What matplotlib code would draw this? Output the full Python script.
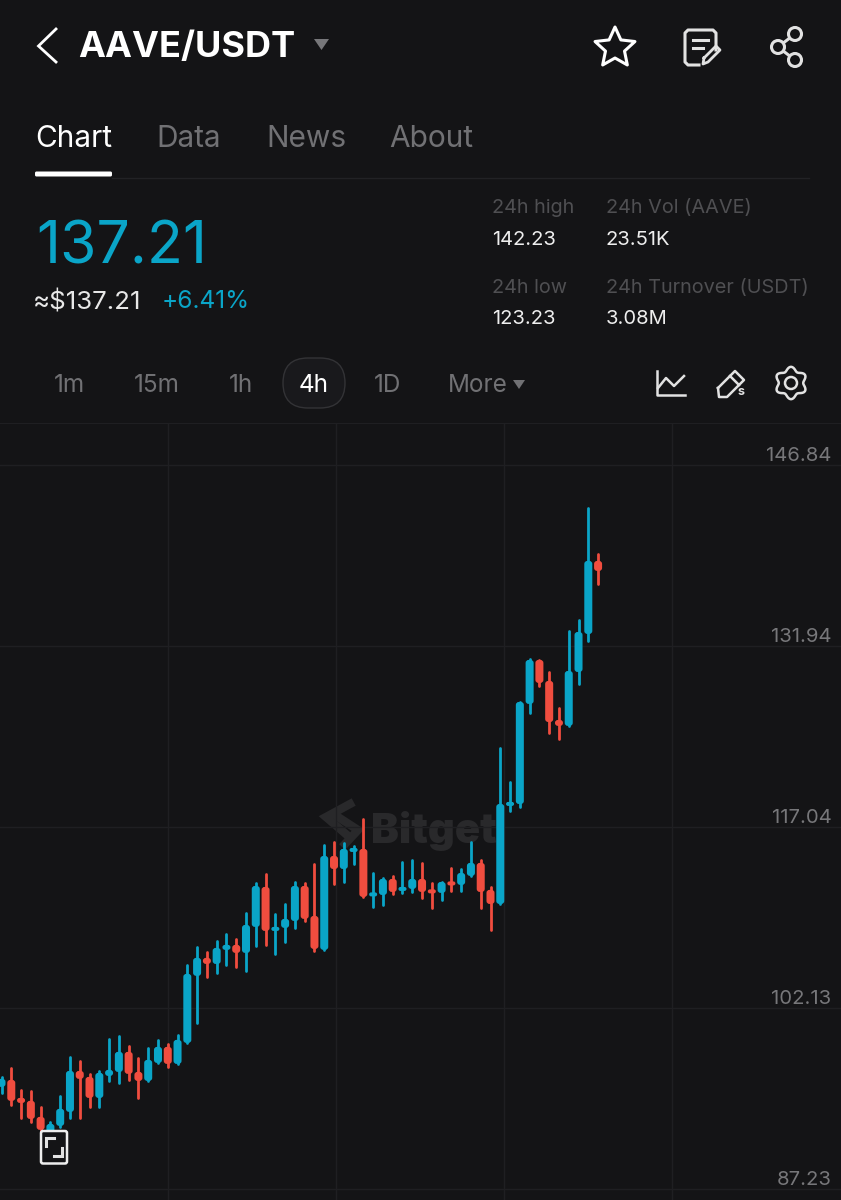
import numpy as np
import matplotlib
matplotlib.use("Agg")
import matplotlib.pyplot as plt
from matplotlib.patches import Circle, FancyBboxPatch, Polygon

plt.rcParams["font.family"] = ["Inter", "DejaVu Sans"]

# candles, oldest first
opens = [95.64, 96.21, 94.73, 94.49, 93.17, 91.85, 92.43, 93.58, 96.95, 96.46, 94.73,
         96.54, 96.87, 98.52, 96.87, 96.13, 97.61, 98.93, 97.53, 99.26, 104.78,
         106.26, 105.76, 106.92, 107.33, 106.67, 108.81, 112.10, 108.48, 108.73, 109.30,
         112.18, 109.71, 106.92, 114.65, 113.58, 114.98, 115.23, 111.36, 111.44, 112.76,
         111.77, 111.94, 112.76, 111.86, 111.61, 112.51, 112.27, 113.01, 114.08, 111.86,
         110.70, 118.77, 118.93, 127.17, 130.79, 129.06, 125.85, 125.36, 129.80, 132.93, 138.94]
highs = [96.46, 97.20, 95.39, 95.31, 93.99, 92.76, 94.90, 98.11, 97.78, 96.71, 96.95,
         99.59, 99.84, 99.01, 98.03, 98.85, 99.51, 99.18, 99.92, 105.68, 107.16,
         106.75, 107.66, 108.23, 107.82, 109.96, 112.43, 113.17, 109.88, 110.70, 112.51,
         112.43, 114.00, 115.56, 115.80, 115.72, 115.48, 117.70, 113.25, 112.84, 113.00,
         114.16, 114.32, 114.08, 112.43, 112.51, 113.67, 113.58, 115.81, 114.32, 112.10,
         123.54, 120.75, 127.33, 130.87, 130.79, 129.80, 126.84, 133.18, 134.08, 143.30, 139.51]
lows = [95.14, 94.16, 93.09, 92.76, 91.85, 91.28, 92.35, 93.09, 93.09, 93.99, 93.99,
        96.13, 95.97, 96.21, 94.73, 96.13, 97.61, 97.28, 97.53, 99.26, 100.91,
        104.69, 105.02, 105.68, 105.52, 105.19, 107.24, 107.33, 106.59, 107.57, 108.73,
        109.30, 106.83, 106.92, 112.35, 112.51, 114.00, 111.28, 110.46, 110.62, 111.53,
        111.61, 111.69, 111.20, 110.37, 111.03, 111.77, 111.77, 113.01, 110.37, 108.56,
        110.70, 118.36, 118.69, 126.43, 128.65, 124.78, 124.29, 125.36, 128.81, 132.35, 137.05]
closes = [96.30, 94.49, 94.32, 93.00, 92.10, 92.59, 93.83, 96.95, 96.30, 94.73, 96.79,
          97.04, 98.52, 96.71, 96.13, 97.86, 98.93, 97.53, 99.51, 104.94, 106.26,
          105.76, 107.08, 107.33, 106.67, 108.97, 112.18, 108.48, 108.81, 109.47, 112.18,
          109.47, 107.00, 114.65, 113.58, 115.23, 115.31, 111.28, 111.61, 112.76, 111.69,
          112.10, 112.76, 111.69, 111.61, 112.51, 112.27, 113.25, 114.08, 111.69, 110.70,
          118.93, 119.10, 127.33, 130.79, 128.90, 125.68, 125.36, 129.88, 133.09, 138.94, 138.12]
# colour of each candle as shown on the app: 1 = up (blue), 0 = down (red)
is_up = [1, 0, 0, 0, 0, 1, 1, 1, 0, 0, 1, 1, 1, 0, 0, 1, 1, 0, 1, 1, 1,
         0, 1, 1, 0, 1, 1, 0, 1, 1, 1, 0, 0, 1, 0, 1, 1, 0, 1, 1, 0,
         1, 1, 0, 0, 1, 0, 1, 1, 0, 0, 1, 1, 1, 1, 0, 0, 0, 1, 1, 1, 0]
price_ticks = [146.84, 131.94, 117.04, 102.13, 87.23]

tabs = ["Chart", "Data", "News", "About"]
tab_x = [35, 156, 266, 389]
intervals = ["1m", "15m", "1h", "4h", "1D", "More"]
interval_x = [69, 157, 241, 314, 388, 478]
stats = [("24h high", "142.23", 492, 207, 239), ("24h Vol (AAVE)", "23.51K", 606, 207, 239),
         ("24h low", "123.23", 492, 287, 318), ("24h Turnover (USDT)", "3.08M", 606, 287, 318)]

BG = "#141416"
BLUE = "#0aa5c8"
RED = "#f04d3f"
GRID = "#1f1f22"
ICON = "#e2e2e2"
W, H = 841, 1200

fig = plt.figure(figsize=(W / 100, H / 100), dpi=100, facecolor=BG)


def px_axes(z):
    a = fig.add_axes([0, 0, 1, 1], zorder=z)
    a.set_xlim(0, W)
    a.set_ylim(H, 0)
    a.axis("off")
    return a


under = px_axes(0)
ui = px_axes(3)

# chart area, candle spacing about 9.78 px, first candle a little past the left edge
step = 9.78
first_px = 1.5
top_px, bottom_px = 423, 1200
px_per_price = 181 / 14.9
ax = fig.add_axes([0, 1 - bottom_px / H, 1, (bottom_px - top_px) / H], zorder=1)
ax.patch.set_alpha(0)
ax.set_xlim(-first_px / step, (W - first_px) / step)
ax.set_ylim(87.23 - (bottom_px - 1189) / px_per_price, 146.84 + (465 - top_px) / px_per_price)
for s in ax.spines.values():
    s.set_visible(False)
ax.spines["top"].set_visible(True)
ax.spines["top"].set_color(GRID)
ax.set_xticks([])
ax.set_yticks(price_ticks)
ax.tick_params(axis="y", length=0, labelleft=False)
ax.grid(axis="y", color=GRID, lw=1)
for xp in [168, 336, 504, 672]:
    ax.axvline((xp - first_px) / step, color=GRID, lw=1, zorder=0)

for p in price_ticks:
    ax.annotate(f"{p:.2f}", xy=(1, p), xycoords=ax.get_yaxis_transform(), xytext=(-9.5, 0),
                textcoords="offset pixels", ha="right", va="bottom", fontsize=14.6, color="#77777a")

# candles
aspect = step / px_per_price
for i, (o, h, l, c, up) in enumerate(zip(opens, highs, lows, closes, is_up)):
    col = BLUE if up else RED
    ax.plot([i, i], [l, h], color=col, lw=2.0, solid_capstyle="round", zorder=3)
    lo, hi = min(o, c), max(o, c)
    body_px = max((hi - lo) * px_per_price, 4)
    mid = (lo + hi) / 2
    lo, hi = mid - body_px / 2 / px_per_price, mid + body_px / 2 / px_per_price
    r = min(3, body_px / 2) / step
    ax.add_patch(FancyBboxPatch((i - 0.41 + r, lo + r * aspect), 0.82 - 2 * r, hi - lo - 2 * r * aspect,
                                boxstyle=f"round,pad={r},rounding_size={r}", mutation_aspect=aspect,
                                fc=col, ec="none", zorder=4))

# watermark
WM = "#29292b"
under.text(371, 831, "Bitget", fontsize=30, fontweight="black", color=WM, ha="left", va="center")
under.plot([350, 326, 347], [804, 817, 835], color=WM, lw=6, solid_joinstyle="miter")
under.plot([338, 358, 345], [817, 830, 844], color=WM, lw=6, solid_joinstyle="miter")

# header
ui.plot([56, 38.5, 56], [29, 46, 62], color="white", lw=2.0, solid_joinstyle="miter")
ui.text(78, 47.5, "AAVE/USDT", fontsize=26, fontweight="bold", color="white", ha="left", va="center")
ui.add_patch(Polygon([(314, 39), (329, 39), (321.5, 50)], fc="#77777a", ec="none"))

# star
ang = np.deg2rad(np.arange(10) * 36 - 90)
rad = np.where(np.arange(10) % 2 == 0, 21, 10)
ui.add_patch(Polygon(np.c_[615 + rad * np.cos(ang), 48 + rad * np.sin(ang)], closed=True, fc="none",
                     ec="white", lw=2.2, joinstyle="round"))

# note icon
ui.plot([699, 688, 685, 685, 688, 713, 716, 716], [65, 65, 62, 33, 30, 30, 33, 50], color=ICON, lw=2.2)
ui.plot([693, 708], [40, 40], color=ICON, lw=2.2)
ui.plot([693, 703], [48, 48], color=ICON, lw=2.2)
ui.plot([704, 716, 720, 708, 703, 704], [58, 46, 50, 62, 64, 58], color=ICON, lw=2)

# share icon
ui.plot([795, 778, 795], [34, 47, 60], color=ICON, lw=2.2, zorder=3)
for cx, cy in [(795, 34), (778, 47), (795, 60)]:
    ui.add_patch(Circle((cx, cy), 6.5, fc=BG, ec=ICON, lw=2.2, zorder=4))

# tabs
for j, (name, x) in enumerate(zip(tabs, tab_x)):
    ui.text(x, 139, name, fontsize=21.5, color="white" if j == 0 else "#717174", ha="left", va="center")
ui.plot([112, 809], [177.5, 177.5], color="#222225", lw=1)
ui.add_patch(FancyBboxPatch((36, 172.5), 75, 3, boxstyle="round,pad=1,rounding_size=1.5", fc="white", ec="none"))

# price block
ui.text(36, 248, "137.21", fontsize=42.5, color=BLUE, ha="left", va="center")
ui.text(33, 302, "≈$137.21", fontsize=18.6, color="#e8e8e8", ha="left", va="center")
ui.text(162, 301, "+6.41%", fontsize=17.6, color=BLUE, ha="left", va="center")
for label, val, x, y1, y2 in stats:
    ui.text(x, y1 + 1, label, fontsize=14.3, color="#4f4f52", ha="left", va="center")
    ui.text(x, y2 + 1, val, fontsize=14.5, color="#eeeeee", ha="left", va="center")

# interval row
ui.add_patch(FancyBboxPatch((283, 358), 62, 50, boxstyle="round,pad=0,rounding_size=25", fc="#19191c",
                            ec="#333336", lw=1))
for name, x in zip(intervals, interval_x):
    ui.text(x, 386, name, fontsize=17.5, color="white" if name == "4h" else "#717174", ha="center", va="center")
ui.add_patch(Polygon([(513, 380), (525, 380), (519, 389)], fc="#717174", ec="none"))

# line icon
ui.plot([657, 657, 685], [371, 395, 395], color=ICON, lw=1.8)
ui.plot([658, 666, 674, 684], [388, 378, 386, 376], color=ICON, lw=1.8)
# pencil icon
ui.plot([718, 735, 744, 727, 719, 718], [388, 371, 380, 397, 397, 388], color=ICON, lw=1.8)
ui.plot([730, 739], [376, 385], color=ICON, lw=1.8)
ui.text(741, 392, "s", fontsize=9, fontweight="bold", color=ICON, ha="center", va="center")
# gear icon
t = np.deg2rad(np.arange(0, 360, 5))
gear_r = 14.2 - 2.0 * np.cos(6 * t)
ui.add_patch(Polygon(np.c_[791 + gear_r * np.cos(t), 383 + gear_r * np.sin(t)], closed=True, fc="none",
                     ec=ICON, lw=1.8, joinstyle="round"))
ui.add_patch(Circle((791, 383), 6, fc="none", ec=ICON, lw=1.8))

# fullscreen button on the chart
ui.add_patch(FancyBboxPatch((41, 1131), 26, 32.5, boxstyle="round,pad=0,rounding_size=2", fc=BG, ec="#eeeeee", lw=1.8))
ui.plot([46, 46, 54], [1146, 1138, 1138], color=ICON, lw=2.2, solid_joinstyle="miter")
ui.plot([54, 62, 62], [1156, 1156, 1148], color=ICON, lw=2.2, solid_joinstyle="miter")

fig.savefig("out.png", dpi=100, facecolor=BG)
